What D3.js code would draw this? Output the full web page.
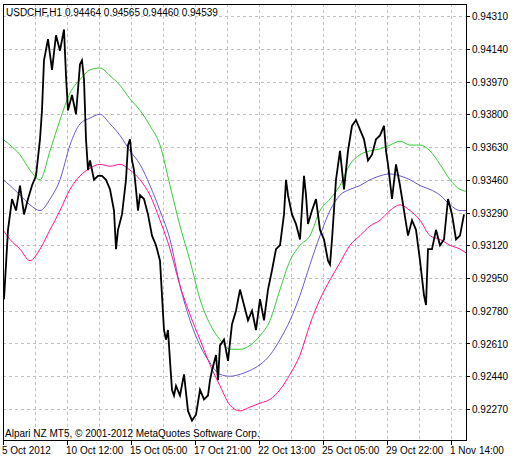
<!DOCTYPE html>
<html><head><meta charset="utf-8">
<script src="https://cdn.jsdelivr.net/npm/d3@7"></script>
<style>body{margin:0;background:#fff}text{font-family:"Liberation Sans",sans-serif;font-size:10px}</style>
</head><body><svg id="c" width="519" height="462"></svg>
<script>
// bar index (hourly) and close price
var priceBars=[1,5,9,13,17,21,25,29,33,37,39,41,45,49,53,57,61,63,65,69,73,77,79,81,83,85,87,91,95,99,103,107,111,113,115,119,123,125,127,129,131,133,135,137,141,145,149,153,157,161,163,165,167,169,171,173,177,181,185,189,193,197,201,205,207,209,213,215,217,221,225,229,233,237,241,245,249,253,257,261,265,269,273,277,281,283,285,289,293,297,301,303,305,309,313,317,321,325,327,329,333,337,341,345,349,353,357,361,365,369,373,377,381,383,385,389,393,397,401,405,409,413,417,421,423,425,429,433,437,441,445,449,453,457,461]
var closes=[.9284,.9320,.9336,.9330,.9343,.9328,.9336,.9343,.9348,.9367,.9382,.9408,.9419,.9403,.9421,.9413,.9424,.9400,.9382,.9390,.9380,.9406,.9408,.9398,.9367,.9351,.9356,.9346,.9348,.9348,.9346,.9341,.9330,.9310,.9320,.9328,.9346,.9364,.9367,.9356,.9351,.9341,.9330,.9338,.9336,.9328,.9317,.9312,.9304,.9268,.9263,.9268,.9252,.9237,.9234,.9239,.9234,.9245,.9226,.9221,.9224,.9237,.9232,.9234,.9242,.9247,.9255,.9242,.9260,.9263,.9252,.9271,.9278,.9289,.9281,.9273,.9278,.9268,.9284,.9273,.9289,.9299,.9310,.9312,.9328,.9346,.9338,.9328,.9323,.9315,.9348,.9338,.9323,.9330,.9336,.9320,.9315,.9304,.9302,.9315,.9346,.9361,.9341,.9361,.9374,.9377,.9372,.9367,.9356,.9359,.9367,.9369,.9374,.9361,.9354,.9336,.9354,.9343,.9330,.9317,.9325,.9320,.9304,.9286,.9281,.9310,.9310,.9320,.9312,.9315,.9336,.9328,.9315,.9317,.9328]
var maBars=[0,7,17,27,37,47,57,67,77,87,97,107,117,127,137,147,157,167,177,187,197,207,217,227,237,247,257,267,277,287,297,307,317,327,337,347,357,367,377,387,397,407,417,427,437,447,457,463]
var maGreen=[.9367,.9364,.9359,.9351,.9346,.9361,.9377,.9391,.9398,.9403,.9404,.9400,.9395,.9388,.9382,.9374,.9364,.9343,.9322,.9304,.9284,.9271,.9263,.9258,.9258,.9260,.9265,.9273,.9289,.9304,.9312,.9317,.9330,.9336,.9343,.9354,.9359,.9361,.9362,.9364,.9366,.9364,.9364,.9361,.9354,.9346,.9341,.9340]
var maBlue=[.9346,.9343,.9338,.9333,.9330,.9336,.9346,.9364,.9375,.9378,.9380,.9375,.9369,.9361,.9354,.9343,.9330,.9315,.9291,.9273,.9260,.9251,.9245,.9244,.9245,.9247,.9250,.9255,.9263,.9273,.9286,.9302,.9317,.9330,.9338,.9341,.9343,.9346,.9348,.9349,.9348,.9346,.9343,.9341,.9338,.9333,.9330,.9330]
var maPink=[.9320,.9315,.9310,.9304,.9310,.9320,.9330,.9341,.9348,.9352,.9354,.9353,.9354,.9351,.9346,.9338,.9325,.9310,.9291,.9276,.9263,.9250,.9239,.9229,.9226,.9228,.9230,.9232,.9237,.9245,.9255,.9271,.9284,.9294,.9303,.9312,.9317,.9322,.9325,.9330,.9333,.9330,.9325,.9317,.9315,.9312,.9310,.9308]
var yTicks=[0.92270,0.92440,0.92610,0.92780,0.92950,0.93120,0.93290,0.93460,0.93630,0.93800,0.93970,0.94140,0.94310]
var dateLabels=["5 Oct 2012","10 Oct 12:00","15 Oct 05:00","17 Oct 21:00","22 Oct 13:00","25 Oct 05:00","29 Oct 22:00","1 Nov 14:00"]

var svg=d3.select("#c")
var L=3,R=466,T=4,B=440
var x=d3.scaleLinear().domain([0,463]).range([L,R])
var y=d3.scaleLinear().domain([0.92270,0.94310]).range([409,16])

// grid
svg.selectAll(".gy").data(yTicks).enter().append("line")
  .attr("x1",L).attr("x2",R).attr("y1",d=>Math.round(y(d))+.5).attr("y2",d=>Math.round(y(d))+.5)
  .attr("stroke","#c0c0c0").attr("stroke-dasharray","3,3")
var gx=d3.range(32,463,32)
svg.selectAll(".gx").data(gx).enter().append("line")
  .attr("x1",d=>Math.round(x(d))+.5).attr("x2",d=>Math.round(x(d))+.5).attr("y1",T).attr("y2",B)
  .attr("stroke","#c0c0c0").attr("stroke-dasharray","3,3")

function drawLine(bars,vals,color,w){
  svg.append("path").datum(d3.zip(bars,vals))
    .attr("d",d3.line().x(d=>x(d[0])).y(d=>y(d[1])).curve(d3.curveMonotoneX))
    .attr("fill","none").attr("stroke",color).attr("stroke-width",w)
}
drawLine(maBars,maGreen,"#32cd32",1)
drawLine(maBars,maBlue,"#6a5acd",1)
drawLine(maBars,maPink,"#ff1493",1)
svg.append("path").datum(d3.zip(priceBars,closes))
  .attr("d",d3.line().x(d=>x(d[0])).y(d=>y(d[1])))
  .attr("fill","none").attr("stroke","#000").attr("stroke-width",1.8)

// frame
svg.append("rect").attr("x",L+.5).attr("y",T+.5).attr("width",R-L).attr("height",B-T)
  .attr("fill","none").attr("stroke","#000")

// y labels
var ya=svg.selectAll(".yl").data(yTicks).enter().append("g")
ya.append("line").attr("x1",R).attr("x2",R+4).attr("y1",d=>Math.round(y(d))+.5).attr("y2",d=>Math.round(y(d))+.5).attr("stroke","#000")
ya.append("text").attr("x",R+6).attr("y",d=>y(d)+4).text(d=>d.toFixed(5))

// x labels
var xa=svg.selectAll(".xl").data(dateLabels).enter().append("g")
xa.append("line").attr("x1",(d,i)=>Math.round(x(i*64))+.5).attr("x2",(d,i)=>Math.round(x(i*64))+.5).attr("y1",B).attr("y2",B+5).attr("stroke","#000")
xa.append("text").attr("x",(d,i)=>x(i*64)-1).attr("y",B+14).text(d=>d)

svg.append("text").attr("x",6).attr("y",16).text("USDCHF,H1  0.94464 0.94565 0.94460 0.94539")
svg.append("text").attr("x",5).attr("y",437).text("Alpari NZ MT5, © 2001-2012 MetaQuotes Software Corp.")
</script></body></html>
